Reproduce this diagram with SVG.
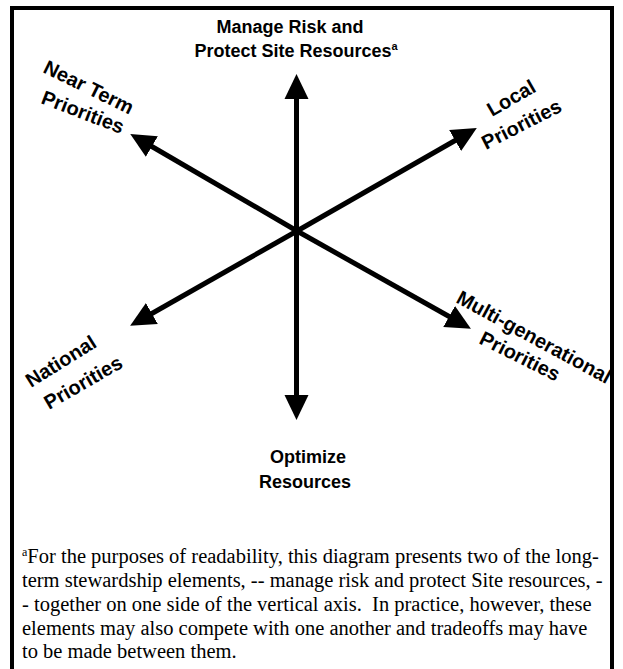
<svg xmlns="http://www.w3.org/2000/svg" width="623" height="669" viewBox="0 0 623 669">
  <style>
    .lbl { font-family: "Liberation Sans", Arial, sans-serif; font-weight: bold; font-size: 18px; fill: #000; }
    .dir { font-family: "Liberation Sans", Arial, sans-serif; font-weight: bold; font-size: 20px; fill: #000; }
    .note { font-family: "Liberation Serif", "Times New Roman", serif; font-size: 20.5px; fill: #000; }
    .axis { stroke: #000; stroke-width: 5; fill: none; }
    .frame { stroke: #000; stroke-width: 4; fill: none; }
  </style>
  <defs>
    <marker id="head" markerUnits="userSpaceOnUse" viewBox="0 0 26 26" markerWidth="26" markerHeight="26" refX="1" refY="13" orient="auto">
      <path d="M0,1 L25,13 L0,25 z" fill="#000"/>
    </marker>
  </defs>

  <rect width="623" height="669" fill="#fff"/>
  <!-- outer frame, open at the bottom edge of the page -->
  <path class="frame" d="M12,672 V8 H612 V672"/>

  <!-- axes radiating from the centre -->
  <g id="connectors">
    <line class="axis" x1="296.5" y1="231" x2="296.5" y2="98" marker-end="url(#head)"/>
    <line class="axis" x1="296.5" y1="231" x2="296.5" y2="396" marker-end="url(#head)"/>
    <line class="axis" x1="297" y1="231" x2="151" y2="146" marker-end="url(#head)"/>
    <line class="axis" x1="297" y1="231" x2="456" y2="140" marker-end="url(#head)"/>
    <line class="axis" x1="297" y1="231" x2="151" y2="314" marker-end="url(#head)"/>
    <line class="axis" x1="297" y1="231" x2="450" y2="317" marker-end="url(#head)"/>
  </g>

  <g id="manage-risk">
    <text class="lbl" x="290" y="33" text-anchor="middle">Manage Risk and</text>
    <text class="lbl" x="296" y="57" text-anchor="middle">Protect Site Resources<tspan font-size="11" dy="-7">a</tspan></text>
  </g>

  <g id="optimize-resources">
    <text class="lbl" x="308" y="463" text-anchor="middle">Optimize</text>
    <text class="lbl" x="305" y="488" text-anchor="middle">Resources</text>
  </g>

  <g id="near-term">
    <text class="dir" font-size="21" transform="translate(42,72) rotate(26)">Near Term</text>
    <text class="dir" font-size="21" transform="translate(40,103) rotate(21)">Priorities</text>
  </g>

  <g id="local">
    <text class="dir" font-size="21.5" transform="translate(492,117) rotate(-30)">Local</text>
    <text class="dir" font-size="21.5" transform="translate(486,150) rotate(-27)">Priorities</text>
  </g>

  <g id="national">
    <text class="dir" font-size="20.5" transform="translate(31,388) rotate(-32)">National</text>
    <text class="dir" font-size="19.5" transform="translate(49,410) rotate(-30)">Priorities</text>
  </g>

  <g id="multi-generational">
    <text class="dir" font-size="20.5" transform="translate(455,302) rotate(28.5)">Multi-generational</text>
    <text class="dir" font-size="20.5" transform="translate(478,343) rotate(26.5)">Priorities</text>
  </g>

  <g id="footnote">
    <text class="note" x="22" y="563"><tspan font-size="12" dy="-7">a</tspan><tspan dy="7">For the purposes of readability, this diagram presents two of the long-</tspan></text>
    <text class="note" x="22" y="587">term stewardship elements, -- manage risk and protect Site resources, -</text>
    <text class="note" x="22" y="611">- together on one side of the vertical axis.&#160; In practice, however, these</text>
    <text class="note" x="22" y="635">elements may also compete with one another and tradeoffs may have</text>
    <text class="note" x="22" y="658">to be made between them.</text>
  </g>
</svg>
